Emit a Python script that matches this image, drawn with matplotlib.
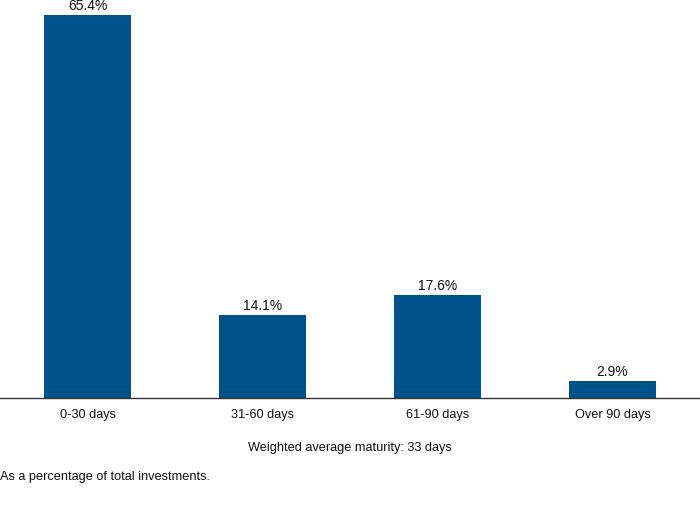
import matplotlib
matplotlib.use("Agg")
import matplotlib.pyplot as plt

categories = ["0-30 days", "31-60 days", "61-90 days", "Over 90 days"]
values = [65.4, 14.1, 17.6, 2.9]
labels = ["65.4%", "14.1%", "17.6%", "2.9%"]

plt.rcParams["font.family"] = ["Liberation Sans", "DejaVu Sans"]

fig = plt.figure(figsize=(7, 5.06), dpi=100)
ax = fig.add_axes([0, 1 - 399 / 506, 1, 383 / 506])

x = range(len(categories))
ax.bar(x, values, width=0.5, color="#00538a")
for xi, v, lab in zip(x, values, labels):
    ax.text(xi, v + 0.5, lab, ha="center", va="bottom", fontsize=10, color="#111", clip_on=False)

ax.set_xlim(-0.5, 3.5)
ax.set_ylim(0, 65.4)
ax.set_xticks(list(x))
ax.set_xticklabels(categories, fontsize=9.2, color="#111")
ax.tick_params(axis="x", length=0, pad=7)
ax.set_yticks([])
for s in ["top", "left", "right"]:
    ax.spines[s].set_visible(False)
ax.spines["bottom"].set_color("#333")
ax.spines["bottom"].set_linewidth(1)

fig.text(0.5, 1 - 448 / 506, "Weighted average maturity: 33 days", ha="center", va="center",
         fontsize=9.2, color="#111")
fig.text(0.0, 1 - 477 / 506, "As a percentage of total investments.", ha="left", va="center",
         fontsize=9.2, color="#111")

fig.savefig("out.png", dpi=100)
